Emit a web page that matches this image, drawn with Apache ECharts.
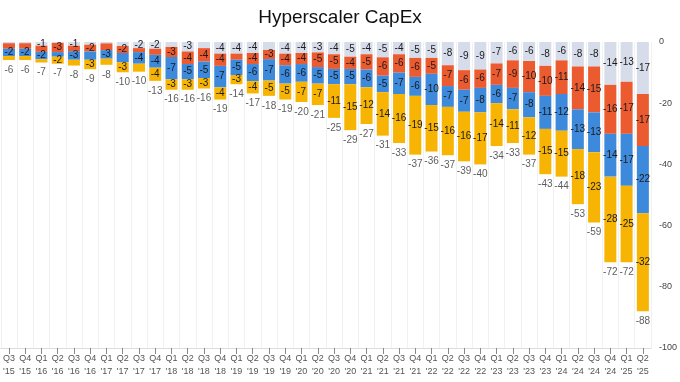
<!DOCTYPE html>
<html>
<head>
<meta charset="utf-8">
<script src="https://cdn.jsdelivr.net/npm/echarts@6/dist/echarts.min.js"></script>
<style>html,body{margin:0;padding:0;background:#fff}#c{width:680px;height:382px}</style>
</head>
<body>
<div id="c"></div>
<script>
const categories = ["Q3\n'15","Q4\n'15","Q1\n'16","Q2\n'16","Q3\n'16","Q4\n'16","Q1\n'17","Q2\n'17","Q3\n'17","Q4\n'17",
  "Q1\n'18","Q2\n'18","Q3\n'18","Q4\n'18","Q1\n'19","Q2\n'19","Q3\n'19","Q4\n'19","Q1\n'20","Q2\n'20",
  "Q3\n'20","Q4\n'20","Q1\n'21","Q2\n'21","Q3\n'21","Q4\n'21","Q1\n'22","Q2\n'22","Q3\n'22","Q4\n'22",
  "Q1\n'23","Q2\n'23","Q3\n'23","Q4\n'23","Q1\n'24","Q2\n'24","Q3\n'24","Q4\n'24","Q1\n'25","Q2\n'25"];
const seriesA = [-0.4,-0.4,-1.2,-0.3,-1.2,-0.9,-0.45,-1.3,-2.0,-2.2,-1.6,-3.1,-2.0,-3.8,-3.8,-3.6,-2.6,-3.8,-3.6,-3.4,-4.0,-4.8,-4.0,-5.0,-4.0,-5.2,-5.2,-7.6,-9.2,-9.0,-7.0,-6.0,-6.2,-7.8,-6.0,-8.0,-8.0,-14.0,-13.0,-17.0];
const seriesB = [-1.8,-1.8,-2.0,-3.0,-1.8,-2.2,-2.2,-2.3,-1.3,-2.0,-3.3,-4.1,-4.4,-4.0,-2.0,-3.6,-3.0,-3.8,-3.6,-4.8,-4.8,-4.0,-5.0,-6.0,-6.0,-6.2,-5.2,-6.8,-6.4,-6.0,-7.0,-9.0,-10.2,-9.8,-11.0,-14.0,-15.0,-16.0,-17.0,-17.0];
const seriesC = [-2.4,-2.4,-2.4,-1.5,-2.8,-2.7,-2.8,-3.0,-3.8,-4.2,-7.3,-5.0,-5.4,-7.0,-5.0,-5.6,-7.0,-6.0,-5.8,-5.4,-5.0,-5.0,-5.8,-5.4,-7.0,-6.2,-10.2,-6.8,-7.2,-8.0,-6.0,-7.0,-8.2,-10.8,-12.0,-13.0,-13.0,-14.0,-17.0,-22.0];
const seriesD = [-1.3,-1.3,-1.1,-2.3,-1.9,-3.1,-2.0,-3.3,-2.6,-4.3,-3.4,-3.4,-3.4,-4.0,-3.0,-4.0,-5.0,-5.2,-6.6,-7.0,-11.0,-15.0,-12.0,-14.2,-16.0,-19.2,-15.2,-15.8,-16.2,-17.0,-14.0,-11.0,-12.2,-14.8,-15.0,-18.0,-23.0,-28.0,-25.0,-32.0];
const totals = [-6,-6,-7,-7,-8,-9,-8,-10,-10,-13,-16,-16,-16,-19,-14,-17,-18,-19,-20,-21,-25,-29,-27,-31,-33,-37,-36,-37,-39,-40,-34,-33,-37,-43,-44,-53,-59,-72,-72,-88];
const yTicks = [0,-20,-40,-60,-80,-100];

const FONT = 'Helvetica, Arial, "Liberation Sans", sans-serif';
const colors = ['#d6dcea','#ec5a30','#3d89db','#f7b402'];
const segs = [seriesA, seriesB, seriesC, seriesD];
const stackSum = categories.map((_, i) => segs.reduce((s, a) => s + a[i], 0));

const chart = echarts.init(document.getElementById('c'), null, {renderer: 'canvas'});
const barSeries = segs.map((d, k) => ({
  type: 'bar',
  stack: 'capex',
  data: d,
  barWidth: 12,
  itemStyle: {color: colors[k]},
  label: {
    show: true,
    position: 'inside',
    color: '#1a1a1a',
    fontSize: 10,
    fontFamily: FONT,
    formatter: p => {
      const r = Math.round(p.value);
      return Math.abs(p.value) < 0.5 ? '' : String(r);
    }
  },
  labelLayout: {hideOverlap: true},
  emphasis: {disabled: true},
  animation: false
}));

chart.setOption({
  animation: false,
  title: {
    text: 'Hyperscaler CapEx',
    left: 'center',
    top: 3,
    textStyle: {fontSize: 19, fontWeight: 'normal', color: '#111', fontFamily: FONT}
  },
  grid: {left: 0, right: 24, top: 42, bottom: 34, containLabel: false},
  xAxis: {
    type: 'category',
    data: categories,
    position: 'bottom',
    axisLine: {onZero: false, lineStyle: {color: '#dcdcdc'}},
    axisTick: {show: true, alignWithLabel: true, length: 6, lineStyle: {color: '#888'}},
    splitLine: {show: true, lineStyle: {color: '#f1f1f1'}},
    axisLabel: {interval: 0, fontSize: 9, color: '#555', lineHeight: 13, margin: 4, fontFamily: FONT}
  },
  yAxis: {
    type: 'value',
    position: 'right',
    min: yTicks[yTicks.length - 1],
    max: yTicks[0],
    interval: 20,
    axisLine: {show: false},
    axisTick: {show: false},
    splitLine: {show: false},
    axisLabel: {fontSize: 9, color: '#444', margin: 8, fontFamily: FONT}
  },
  series: barSeries.concat([{
    type: 'scatter',
    data: stackSum,
    symbolSize: 0,
    itemStyle: {color: 'rgba(0,0,0,0)'},
    label: {
      show: true,
      position: 'bottom',
      distance: 5,
      color: '#333',
      fontSize: 10,
      fontFamily: FONT,
      formatter: p => String(totals[p.dataIndex])
    },
    emphasis: {disabled: true},
    z: 5
  }])
});
</script>
</body>
</html>
